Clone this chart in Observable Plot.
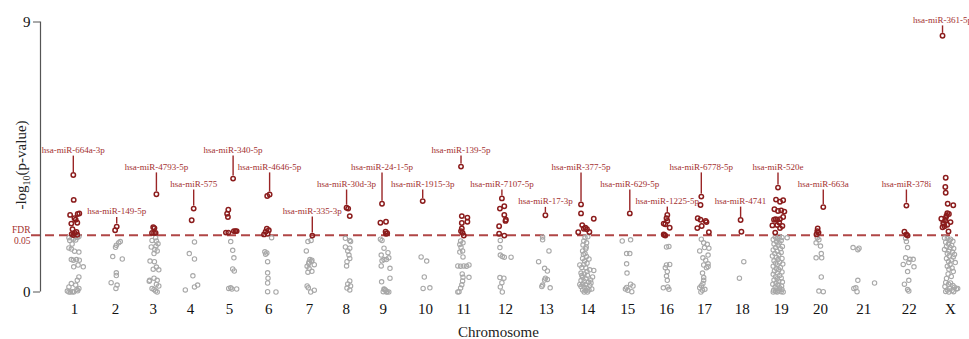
<!DOCTYPE html>
<html><head><meta charset="utf-8">
<script src="https://cdn.jsdelivr.net/npm/d3@7"></script>
<script src="https://cdn.jsdelivr.net/npm/@observablehq/plot@0.6"></script>
<style>body{margin:0;background:#fff} svg{display:block}</style>
</head><body><div id="chart"></div>
<script>
// Chromosome categories and their ordered positions on the x axis
const chromosomes = ["1","2","3","4","5","6","7","8","9","10","11","12","13","14","15","16","17","18","19","20","21","22","X"];
const chrPos = [1,2.03,2.977,3.913,4.893,5.88,6.902,7.823,8.753,9.815,10.777,11.824,12.846,13.891,14.896,15.868,16.822,17.769,18.748,19.735,20.823,21.963,23];
const fdrThreshold = 1.89; // -log10 p at FDR 0.05

// Annotated miRNAs
const annChr   = ["1","2","3","4","5","6","7","8","9","10","11","12","13","14","15","16","17","18","19","20","22","X"];
const annLabel = ["hsa-miR-664a-3p","hsa-miR-149-5p","hsa-miR-4793-5p","hsa-miR-575","hsa-miR-340-5p","hsa-miR-4646-5p","hsa-miR-335-3p","hsa-miR-30d-3p","hsa-miR-24-1-5p","hsa-miR-1915-3p","hsa-miR-139-5p","hsa-miR-7107-5p","hsa-miR-17-3p","hsa-miR-377-5p","hsa-miR-629-5p","hsa-miR-1225-5p","hsa-miR-6778-5p","hsa-miR-4741","hsa-miR-520e","hsa-miR-663a","hsa-miR-378i","hsa-miR-361-5p"];
const annValue = [3.9,2.18,3.26,2.78,3.78,3.25,1.88,2.81,2.94,3.03,4.18,3.12,2.56,2.92,2.62,2.57,3.18,2.4,3.48,2.83,2.88,8.54];
const annJitter= [-0.03,0.03,0.08,0.08,0.09,0.02,0.07,0.01,-0.03,-0.07,-0.07,-0.09,-0.02,-0.17,0.05,0.02,-0.08,-0.04,-0.08,0.07,-0.07,-0.2];
const annLevel = [4.73,2.68,4.17,3.6,4.73,4.17,2.7,3.6,4.17,3.6,4.73,3.6,3.02,4.17,3.6,3.03,4.17,3.03,4.17,3.6,3.6,9.07];

// Significant (above FDR) miRNAs, not labelled: [jitter, -log10 p]
const sigByChr = [
 ["1", [[-0.02,3.07],[-0.11,2.57],[0.08,2.6],[0.12,2.62],[0,2.46],[0.03,2.41],[-0.08,2.28],[0.07,2.31],[-0.05,2.09],[0.05,2.0],[0,1.97],[-0.07,1.93],[0.07,1.91],[-0.03,1.9]]],
 ["2", [[-0.01,2.06]]],
 ["3", [[0,2.16],[0.03,2.13],[-0.03,1.97],[0.06,1.97],[0.02,1.97]]],
 ["4", [[0.03,2.39]]],
 ["5", [[-0.03,2.74],[-0.06,2.61],[-0.04,2.5],[-0.09,1.98],[-0.03,1.98],[0.11,2.03],[0.15,2.03],[0.18,2.03]]],
 ["6", [[-0.04,3.2],[-0.05,2.11],[0,2.06],[-0.08,2.01],[-0.03,1.94],[-0.12,1.92]]],
 ["8", [[0.05,2.78],[0.09,2.53]]],
 ["9", [[-0.07,2.31],[0.07,2.34],[0.06,2.01],[0.1,1.96],[0.07,1.94]]],
 ["11",[[-0.05,2.53],[0.09,2.48],[0.09,2.34],[-0.05,2.3],[-0.05,2.12],[-0.07,2.03],[-0.03,1.97],[0,1.88]]],
 ["12",[[-0.03,2.86],[-0.14,2.78],[-0.03,2.57],[0.01,2.41],[0,2.37],[-0.16,2.19],[-0.16,1.94],[-0.03,1.88]]],
 ["14",[[-0.17,2.62],[0.15,2.44],[-0.14,2.23],[-0.06,2.14],[-0.02,2.09],[-0.1,2.11],[-0.24,1.99],[0.04,2.0]]],
 ["16",[[0,2.46],[0.02,2.37],[-0.07,2.28],[-0.03,2.26],[0.08,2.14],[-0.07,1.92],[-0.03,1.88],[-0.05,1.9]]],
 ["17",[[-0.1,2.9],[-0.17,2.46],[-0.1,2.41],[0.03,2.37],[0.05,2.33],[-0.07,2.2],[-0.18,2.13],[0.11,1.99]]],
 ["18",[[-0.02,2.01]]],
 ["19",[[-0.13,3.08],[-0.03,3.01],[0.05,3.06],[-0.17,2.76],[-0.08,2.7],[0,2.72],[0.08,2.68],[0.05,2.5],[-0.1,2.41],[-0.18,2.41],[-0.03,2.43],[-0.14,2.43],[-0.22,2.22],[-0.1,2.23],[0.03,2.2],[-0.03,2.13],[-0.15,1.98],[-0.05,2.32]]],
 ["20",[[-0.07,2.12],[-0.08,2.03],[-0.05,1.98],[-0.1,1.92]]],
 ["22",[[-0.12,2.01],[-0.07,1.92],[-0.04,1.88]]],
 ["X", [[-0.12,3.81],[-0.13,3.5],[-0.12,3.31],[-0.07,2.94],[0.07,2.89],[-0.08,2.63],[-0.04,2.6],[-0.1,2.54],[-0.23,2.44],[-0.12,2.47],[0,2.33],[-0.18,2.3],[-0.2,2.16],[-0.08,2.24],[-0.15,2.19],[-0.05,2.02],[-0.13,2.38],[-0.17,2.27]]]
];

// Non-significant miRNAs: [jitter, -log10 p]
const nsByChr = [
 ["1", [[-0.14,1.81],[-0.06,1.8],[0.07,1.82],[0.11,1.85],[-0.12,1.72],[0.03,1.73],[-0.06,1.6],[-0.14,1.47],[-0.08,1.43],[0,1.36],[0.11,1.33],[-0.08,1.08],[-0.03,1.06],[0.05,1.08],[0.12,1.06],[-0.02,0.84],[0.09,0.9],[0.22,0.84],[0.11,0.5],[0.07,0.39],[-0.08,0.28],[-0.14,0.17],[0.03,0.23],[0.11,0.12],[-0.18,0.03],[-0.1,0],[-0.02,0],[0.08,0.04],[-0.14,0],[-0.05,0.01],[0.06,0.08],[-0.03,1.76]]],
 ["2", [[0.12,1.68],[0.08,1.64],[0.02,1.56],[0,1.49],[-0.07,1.18],[0.17,1.1],[0.02,0.64],[0.02,0.55],[-0.11,0.31],[0.04,0.23],[0.01,0.12]]],
 ["3", [[0.06,1.81],[0.08,1.7],[0.12,1.61],[0.07,1.53],[-0.05,1.5],[0.1,1.37],[0.02,1.28],[-0.03,1.72],[0.04,1.42],[-0.08,1.03],[0.03,1.01],[0.08,0.83],[0.14,0.74],[0,0.76],[-0.09,0.39],[0.02,0.46],[0.1,0.39],[0.08,0.26],[0.14,0.2],[-0.03,0.12],[0.06,0.03],[0.1,0],[0.02,0.08],[-0.1,0.36]]],
 ["4", [[0.1,1.67],[-0.03,1.28],[0.1,1.1],[0.06,0.54],[0.18,0.23],[0.1,0.17],[-0.13,0.07]]],
 ["5", [[0.03,1.68],[0.08,1.39],[0.11,1.14],[0.08,0.77],[0.12,0.7],[-0.02,0.12],[0.06,0.1],[0.18,0.1],[0.03,0.14]]],
 ["6", [[0.07,1.81],[-0.1,1.34],[-0.05,1.3],[-0.08,1.26],[-0.03,1.01],[-0.03,0.64],[-0.02,0.46],[-0.03,0.3],[-0.03,0.01],[0.18,0]]],
 ["7", [[-0.04,1.68],[0.04,1.72],[-0.08,1.37],[0.01,1.08],[0.06,1.06],[-0.01,1.0],[0.12,0.91],[-0.06,0.86],[-0.01,0.78],[0.06,0.69],[-0.04,0.66],[-0.06,0.2],[-0.03,0.14],[0.12,0.06],[0.03,0],[0.05,1.02],[-0.02,0.95]]],
 ["8", [[-0.02,1.79],[0.09,1.72],[0.11,1.68],[-0.02,1.5],[0.09,1.46],[0.04,1.37],[0.07,1.23],[0.09,1.12],[0.02,1.01],[0.01,0.87],[0.09,0.37],[0.04,0.27],[0.11,0.2],[0.02,0.13],[0.09,0.07]]],
 ["9", [[-0.07,1.76],[-0.03,1.72],[0.02,1.46],[0.12,1.31],[-0.05,1.23],[0.14,1.14],[0.08,1.08],[0.02,1.08],[-0.03,1.04],[-0.05,0.87],[0.17,0.79],[0.17,0.46],[-0.04,0.34],[0.02,0.1],[0.06,0.06],[0.1,0.01],[0.14,0],[0,0.01],[0.08,0],[0.03,0.08]]],
 ["10",[[-0.11,1.17],[0.03,1.03],[-0.03,0.5],[-0.06,0.12],[0.11,0.14]]],
 ["11",[[-0.08,1.7],[-0.02,1.64],[-0.1,1.58],[-0.07,1.49],[-0.03,1.37],[-0.1,1.33],[-0.02,1.17],[-0.15,0.87],[-0.08,0.86],[0,0.87],[0.07,0.86],[0.13,0.9],[-0.02,0.49],[0.13,0.49],[-0.03,0.37],[-0.05,0.24],[-0.08,0.13],[-0.12,0.01],[-0.15,0],[-0.04,0.6]]],
 ["12",[[-0.13,1.72],[-0.14,1.48],[-0.13,1.23],[-0.08,1.18],[-0.03,1.16],[0.14,1.16],[-0.14,0.48],[-0.04,0.46],[-0.09,0.31],[-0.13,0.17],[-0.08,0]]],
 ["13",[[-0.09,1.83],[-0.09,1.74],[0.07,1.37],[-0.19,1.01],[-0.04,0.79],[0.03,0.7],[-0.02,0.46],[0.03,0.42],[-0.04,0.4],[-0.09,0.23],[0.1,0.14],[-0.11,0.18]]],
 ["14",[[-0.07,1.82],[-0.1,1.7],[-0.03,1.64],[-0.12,1.57],[-0.05,1.44],[-0.13,1.37],[-0.07,1.28],[-0.03,1.18],[-0.13,1.12],[-0.08,1.03],[-0.02,0.96],[-0.15,0.82],[-0.05,0.8],[0.05,0.74],[0.15,0.72],[-0.17,0.63],[-0.09,0.6],[-0.01,0.56],[-0.13,0.49],[-0.05,0.44],[-0.17,0.38],[-0.09,0.36],[0.02,0.33],[-0.13,0.27],[-0.05,0.24],[0.05,0.22],[-0.17,0.18],[-0.09,0.16],[-0.02,0.13],[-0.13,0.07],[-0.05,0.04],[0.03,0.07],[-0.09,0],[-0.01,0],[0,1.84],[-0.11,1.25],[0.03,1.1],[-0.2,0.9],[0.12,0.5],[-0.15,0.55],[0.08,0.3],[-0.2,0.25],[0.1,0.1],[-0.02,0.68],[0.07,0.4],[-0.1,0.92],[-0.04,1.5]]],
 ["15",[[0.07,1.74],[-0.14,1.7],[-0.03,1.28],[0.05,1.28],[-0.03,0.94],[-0.02,0.63],[0.07,0.26],[0.13,0.2],[-0.06,0.1],[0,0.06],[0.1,0.01],[-0.03,0.15]]],
 ["16",[[0,1.5],[0.06,1.52],[0,0.9],[0.08,0.92],[-0.03,0.81],[0.02,0.68],[0,0.53],[0.02,0.39],[-0.08,0.14],[0.03,0.17],[0.06,0.09]]],
 ["17",[[-0.08,1.76],[-0.02,1.64],[0.07,1.59],[0,1.48],[0.11,1.46],[-0.12,1.37],[0.09,1.23],[-0.04,1.14],[0.03,1.06],[0.09,0.94],[-0.02,0.9],[0.05,0.81],[0.09,0.85],[-0.05,0.63],[-0.02,0.48],[-0.02,0.39],[-0.04,0.28],[-0.08,0.21],[-0.12,0.14],[-0.05,0.06],[-0.09,0],[0.01,0.09]]],
 ["18",[[0.04,1.01],[-0.07,0.46]]],
 ["19",[[-0.05,1.85],[-0.15,1.83],[0.02,1.82],[0.15,1.81],[-0.1,1.78],[-0.2,1.75],[0,1.72],[-0.12,1.68],[-0.05,1.64],[-0.18,1.6],[-0.08,1.56],[0.03,1.52],[-0.14,1.48],[-0.02,1.44],[-0.2,1.4],[-0.1,1.36],[0,1.32],[-0.16,1.28],[-0.06,1.24],[-0.22,1.2],[-0.12,1.16],[0.02,1.12],[-0.08,1.08],[-0.18,1.04],[-0.04,1.0],[-0.14,0.96],[0.04,0.93],[-0.1,0.9],[-0.2,0.86],[-0.02,0.82],[-0.12,0.78],[-0.06,0.74],[-0.17,0.7],[0.02,0.67],[-0.09,0.63],[-0.2,0.59],[-0.04,0.55],[-0.14,0.51],[0,0.47],[-0.1,0.44],[-0.18,0.4],[-0.06,0.36],[0.03,0.33],[-0.13,0.3],[-0.21,0.26],[-0.08,0.23],[0.01,0.2],[-0.15,0.17],[-0.04,0.14],[-0.11,0.11],[0.02,0.08],[-0.19,0.06],[-0.07,0.04],[-0.14,0.02],[0,0.01],[-0.1,0],[-0.2,0],[0.05,0]]],
 ["20",[[-0.08,1.81],[-0.04,1.74],[-0.11,1.64],[0,1.53],[0.02,1.28],[-0.11,1.14],[0.03,1.14],[0.02,0.5],[-0.04,0.03],[0.07,0.01]]],
 ["21",[[-0.27,1.48],[-0.15,1.41],[-0.12,1.46],[-0.15,0.39],[-0.25,0.12],[-0.2,0.14],[-0.17,0.01],[0.27,0.3]]],
 ["22",[[-0.09,1.79],[-0.07,1.68],[-0.04,1.48],[-0.09,1.14],[0.02,1.09],[0.1,1.09],[-0.15,0.92],[-0.01,0.98],[0.12,0.84],[-0.04,0.68],[-0.01,0.39],[-0.12,0.26],[-0.04,0.08],[-0.01,0.03]]],
 ["X", [[-0.15,1.8],[-0.08,1.78],[0,1.76],[-0.03,1.72],[0.06,1.69],[-0.12,1.66],[-0.05,1.6],[0.03,1.55],[-0.1,1.52],[-0.01,1.48],[0.08,1.45],[-0.15,1.42],[-0.04,1.36],[0.05,1.33],[-0.08,1.28],[0.1,1.25],[-0.03,1.2],[0.07,1.17],[-0.1,1.12],[0.02,1.07],[-0.05,1.02],[0.12,0.98],[-0.01,0.92],[-0.08,0.86],[0.04,0.8],[-0.04,0.76],[0.07,0.68],[-0.06,0.6],[0.02,0.52],[-0.1,0.45],[-0.12,0.32],[0,0.3],[-0.05,0.26],[0.06,0.22],[-0.14,0.18],[0.1,0.16],[-0.02,0.12],[0.15,0.1],[-0.08,0.07],[0.04,0.05],[-0.12,0.02],[0.08,0.01],[-0.04,0],[0.18,0.12]]]
];

const posOf = new Map(chromosomes.map((c, i) => [c, chrPos[i]]));
const nameOf = new Map(chrPos.map((p, i) => [p, chromosomes[i]]));
const flatten = groups => groups.flatMap(([c, pts]) => pts.map(([j, v]) => ({chr: c, x: posOf.get(c) + j, value: v})));
const sig = flatten(sigByChr);
const ns = flatten(nsByChr);
const ann = annChr.map((c, i) => ({chr: c, label: annLabel[i], value: annValue[i], x: posOf.get(c) + annJitter[i], level: annLevel[i]}));

const xDomain = [0.146, 23.151];
const red = "#8b1c1c", labelRed = "#a3302f", gray = "#a8a8a8";

const plot = Plot.plot({
  width: 969, height: 339,
  marginLeft: 40, marginRight: 13, marginTop: 21.5, marginBottom: 47.5,
  style: {fontFamily: "'Liberation Serif', 'Times New Roman', serif", background: "#fff", overflow: "visible"},
  x: {domain: xDomain, axis: null},
  y: {domain: [0, 9], axis: null},
  marks: [
    Plot.ruleY([fdrThreshold], {stroke: "#b04646", strokeWidth: 2, strokeDasharray: "9,5", insetLeft: -9, insetRight: -2}),
    Plot.ruleX([xDomain[0]], {y1: 0, y2: 9, stroke: "#555", strokeWidth: 1.2}),
    Plot.axisY([0, 9], {tickSize: 7, tickPadding: 3, fontSize: 15, stroke: "#555", fill: "#111", label: null}),
    Plot.axisX(chrPos, {tickSize: 0, tickPadding: 11, fontSize: 15, fill: "#111", tickFormat: d => nameOf.get(d), label: null}),
    Plot.text(["Chromosome"], {frameAnchor: "bottom", dy: 45, lineAnchor: "bottom", fontSize: 15, fill: "#222"}),
    Plot.text(["-log10(p-value)"], {frameAnchor: "left", rotate: -90, dx: -19, dy: 8, fontSize: 15, textAnchor: "middle", lineAnchor: "middle", fill: "#222"}),
    Plot.text([fdrThreshold], {y: d => d, frameAnchor: "left", dx: -10, textAnchor: "end", text: () => "FDR\n0.05", lineAnchor: "middle", lineHeight: 1.15, fontSize: 9.5, fill: labelRed}),
    Plot.dot(ns, {x: "x", y: "value", r: 2.2, stroke: gray, strokeWidth: 1.1, fill: "none"}),
    Plot.dot(sig, {x: "x", y: "value", r: 2.2, stroke: red, strokeWidth: 1.5, fill: "none"}),
    Plot.ruleX(ann, {x: "x", y1: "level", y2: "value", stroke: "#9a2526", strokeWidth: 1.4, insetTop: 6, insetBottom: 2.5}),
    Plot.dot(ann, {x: "x", y: "value", r: 2.2, stroke: red, strokeWidth: 1.5, fill: "none"}),
    Plot.text(ann, {x: "x", y: "level", text: "label", fontSize: 9, fill: labelRed, lineAnchor: "middle"})
  ]
});

d3.select(plot).selectAll("text").filter(function() { return this.textContent === "-log10(p-value)"; }).each(function() {
  const t = d3.select(this);
  t.text(null);
  t.append("tspan").text("-log");
  t.append("tspan").attr("font-size", "10").attr("dy", "4").text("10");
  t.append("tspan").attr("dy", "-4").text("(p-value)");
});
d3.select(plot).style("overflow", "hidden");
document.getElementById("chart").appendChild(plot);
</script>
</body></html>
